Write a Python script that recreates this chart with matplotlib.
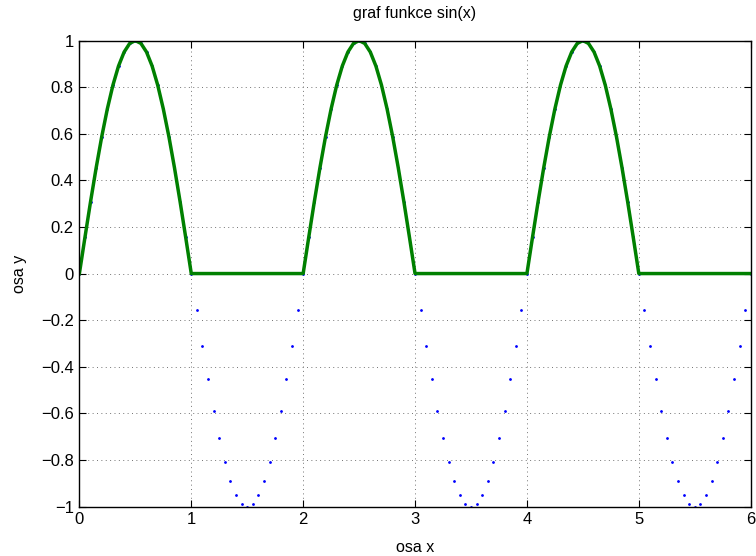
import numpy as np
import matplotlib.pyplot as plt

plt.rcParams['font.family'] = ['Liberation Sans', 'DejaVu Sans']

# samples of sin(x), x from 0 to 6 step 0.05
x_vals = np.linspace(0, 6, 121)
y_dots = [0, .156, .309, .454, .588, .707, .809, .891, .951, .988, 1, .988, .951, .891, .809, .707, .588, .454, .309, .156,
          0, -.156, -.309, -.454, -.588, -.707, -.809, -.891, -.951, -.988, -1, -.988, -.951, -.891, -.809, -.707, -.588, -.454, -.309, -.156,
          0, .156, .309, .454, .588, .707, .809, .891, .951, .988, 1, .988, .951, .891, .809, .707, .588, .454, .309, .156,
          0, -.156, -.309, -.454, -.588, -.707, -.809, -.891, -.951, -.988, -1, -.988, -.951, -.891, -.809, -.707, -.588, -.454, -.309, -.156,
          0, .156, .309, .454, .588, .707, .809, .891, .951, .988, 1, .988, .951, .891, .809, .707, .588, .454, .309, .156,
          0, -.156, -.309, -.454, -.588, -.707, -.809, -.891, -.951, -.988, -1, -.988, -.951, -.891, -.809, -.707, -.588, -.454, -.309, -.156,
          0]
# the green line is the same samples with the negative part cut to zero
y_line = np.maximum(np.array(y_dots), 0)

x_ticks = [0, 1, 2, 3, 4, 5, 6]
y_ticks = [-1, -0.8, -0.6, -0.4, -0.2, 0, 0.2, 0.4, 0.6, 0.8, 1]
y_labels = ['\u22121', '\u22120.8', '\u22120.6', '\u22120.4', '\u22120.2', '0', '0.2', '0.4', '0.6', '0.8', '1']

fig = plt.figure(figsize=(7.56, 5.56), dpi=100)
ax = fig.add_axes([0.105, 0.089, 0.888, 0.838])

ax.plot(x_vals, y_dots, linestyle='none', marker='.', markersize=2.0, color='blue')
ax.plot(x_vals, y_line, color='#008000', linewidth=2.5)

ax.set_xlim(0, 6)
ax.set_ylim(-1, 1)
ax.set_xticks(x_ticks)
ax.set_xticklabels([str(t) for t in x_ticks])
ax.set_yticks(y_ticks)
ax.set_yticklabels(y_labels)
ax.tick_params(direction='in', top=True, right=True, length=5, width=0.8, labelsize=12, pad=4)
ax.grid(True, color='0.45', linestyle=(0, (1, 3.5)), linewidth=0.7)
for sp in ax.spines.values():
    sp.set_linewidth(1.0)

ax.set_title('graf funkce sin(x)', fontsize=11.5, pad=16)
ax.set_xlabel('osa x', fontsize=11.5, labelpad=9)
ax.set_ylabel('osa y', fontsize=11.5, labelpad=10)

fig.savefig('out.png', dpi=100)
